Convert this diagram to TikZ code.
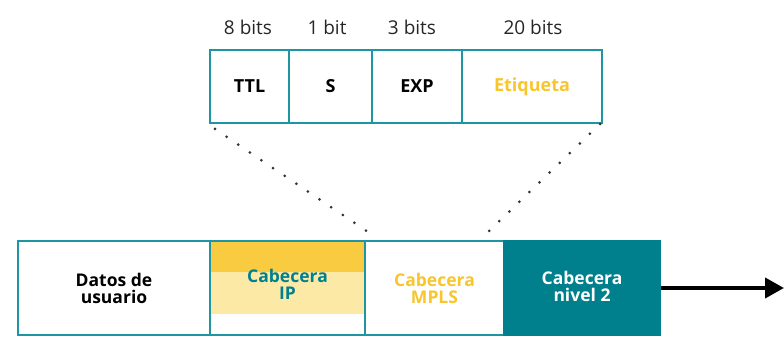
\documentclass[tikz,border=0pt]{standalone}
\usepackage{fontspec}
\setmainfont{Open Sans}
\usetikzlibrary{arrows.meta}
\definecolor{tealdark}{RGB}{0,128,140}
\definecolor{tealline}{RGB}{30,150,162}
\definecolor{ydark}{RGB}{249,203,64}
\definecolor{ylight}{RGB}{253,233,166}
\definecolor{ytext}{RGB}{248,197,44}
\begin{document}
\begin{tikzpicture}[x=1pt,y=-1pt,
  cell/.style={draw=tealline,line width=1.8pt,inner sep=0pt},
  blab/.style={font=\bfseries\fontsize{18}{18}\selectfont,align=center},
  bitlab/.style={font=\fontsize{19}{19}\selectfont,text=black!85},
  hdr/.style={font=\bfseries\fontsize{17.5}{17}\selectfont,align=center},
  dots/.style={line width=3pt,dash pattern=on 0pt off 14pt,line cap=round,black!80}]
\useasboundingbox (0,0) rectangle (784,344);
% top field
\node[cell,minimum width=79pt,minimum height=73pt] (ttl) at (249.5,86.5) {};
\node[cell,minimum width=83pt,minimum height=73pt] (s) at (330.5,86.5) {};
\node[cell,minimum width=90pt,minimum height=73pt] (exp) at (417,86.5) {};
\node[cell,minimum width=140pt,minimum height=73pt] (etq) at (532,86.5) {};
\node[blab] at (ttl.center) {TTL};
\node[blab] at (s.center) {S};
\node[blab] at (exp.center) {EXP};
\node[blab,text=ytext] at (etq.center) {Etiqueta};
\node[bitlab] (b8) at (248,27) {8 bits};
\node[bitlab] (b1) at (327,27) {1 bit};
\node[bitlab] (b3) at (412,27) {3 bits};
\node[bitlab] (b20) at (533,27) {20 bits};
% bottom
\fill[ydark] (210,241) rectangle (365,272);
\fill[ylight] (210,272) rectangle (365,314);
\fill[tealdark] (504,241) rectangle (660,335);
\node[cell,minimum width=192pt,minimum height=94pt] (dat) at (114,288) {};
\node[cell,minimum width=155pt,minimum height=94pt] (ip) at (287.5,288) {};
\node[cell,minimum width=139pt,minimum height=94pt] (mpls) at (434.5,288) {};
\node[cell,draw=tealdark,minimum width=156pt,minimum height=94pt] (n2) at (582,288) {};
\node[hdr] at (114,288) {Datos de\\usuario};
\node[hdr,text=tealdark] at (287.5,284) {Cabecera\\IP};
\node[hdr,text=ytext] at (434.5,288) {Cabecera\\MPLS};
\node[hdr,text=white] at (582,286) {Cabecera\\nivel 2};
\coordinate (aend) at (784,288);
\draw[line width=4pt,-{Triangle[length=19pt,width=20pt]}] (n2.east) -- (aend);
% dotted lines
\coordinate (l1) at (215,129);
\coordinate (l2) at (368,232);
\coordinate (r1) at (600,124);
\coordinate (r2) at (488,232);
\draw[dots] (l1) -- (l2);
\draw[dots] (r1) -- (r2);
\end{tikzpicture}
\end{document}
